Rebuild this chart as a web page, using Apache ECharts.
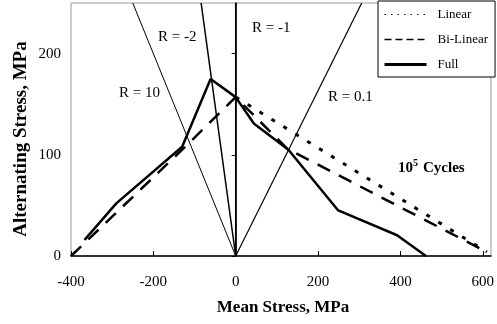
<!DOCTYPE html>
<html>
<head>
<meta charset="utf-8">
<script src="https://cdn.jsdelivr.net/npm/echarts@6/dist/echarts.min.js"></script>
<style>
  html, body { margin: 0; padding: 0; background: #fff; }
  #chart { width: 497px; height: 324px; }
</style>
</head>
<body>
<div id="chart"></div>
<script>
// Haigh diagram at 1e5 cycles: mean stress vs alternating stress (MPa)
const linearMean = [0, 610];
const linearAlt = [157, 4];

const bilinearMean = [-400, -125, 0, 125, 610];
const bilinearAlt = [0, 107, 157, 106, 4];

const fullMean = [-367, -290, -130, -61, 0, 44, 128, 249, 392, 462];
const fullAlt = [16, 52, 108, 175, 157, 131, 105, 45, 20.5, 0];

// Constant stress-ratio rays from the origin to the top of the plot
const rayNames = ['R = 10', 'R = -2', 'R = -1', 'R = 0.1'];
const rayTopMean = [-250, -84, 0, 306];
const rayTopAlt = [250, 250, 250, 250];
const rayWidths = [1, 1.5, 1.5, 1.2];

const xTicks = [-400, -200, 0, 200, 400, 600];
const yTicks = [0, 100, 200];

const SERIF = '"Liberation Serif", "Times New Roman", serif';

function pairs(xs, ys) {
  return xs.map((x, i) => [x, ys[i]]);
}

const raySeries = rayNames.map((name, i) => ({
  type: 'line',
  name: name,
  data: [[0, 0], [rayTopMean[i], rayTopAlt[i]]],
  symbol: 'none',
  silent: true,
  lineStyle: { color: '#000', width: rayWidths[i] },
  z: 1
}));

const chart = echarts.init(document.getElementById('chart'), null, { renderer: 'canvas' });

chart.setOption({
  animation: false,
  backgroundColor: '#fff',
  grid: {
    left: 71, right: 3, top: 3, bottom: 68,
    show: true, borderColor: '#999', borderWidth: 1, backgroundColor: 'transparent'
  },
  xAxis: {
    type: 'value', min: -400, max: 620, interval: 200,
    splitLine: { show: false },
    axisLine: { lineStyle: { color: '#000', width: 1.5 } },
    axisTick: { inside: true, length: 5, lineStyle: { color: '#000' }, customValues: xTicks },
    axisLabel: { customValues: xTicks, color: '#000', fontFamily: SERIF, fontSize: 15, margin: 19 }
  },
  yAxis: {
    type: 'value', min: 0, max: 250, interval: 100,
    splitLine: { show: false },
    axisLine: { lineStyle: { color: '#000', width: 1.5 } },
    axisTick: { inside: false, length: 4, lineStyle: { color: '#000' }, customValues: yTicks },
    axisLabel: { customValues: yTicks, color: '#000', fontFamily: SERIF, fontSize: 15, margin: 10 }
  },
  legend: {
    orient: 'vertical',
    left: 378, top: 1,
    padding: [7, 7, 6, 5],
    itemGap: 12,
    itemWidth: 42, itemHeight: 14,
    backgroundColor: '#fff',
    borderColor: '#000', borderWidth: 1,
    itemStyle: { opacity: 0 },
    textStyle: { color: '#000', fontFamily: SERIF, fontSize: 13, padding: [0, 0, 0, 6] },
    data: [
      { name: 'Linear', lineStyle: { width: 1, type: [1.5, 5] } },
      { name: 'Bi-Linear', lineStyle: { width: 1.5, type: [7, 4] } },
      { name: 'Full', lineStyle: { width: 3, type: 'solid' } }
    ]
  },
  series: raySeries.concat([
    {
      type: 'line', name: 'Linear',
      data: pairs(linearMean, linearAlt),
      symbol: 'none',
      itemStyle: { color: '#000' },
      lineStyle: { color: '#000', width: 3, type: [4, 10] },
      z: 3
    },
    {
      type: 'line', name: 'Bi-Linear',
      data: pairs(bilinearMean, bilinearAlt),
      symbol: 'none',
      itemStyle: { color: '#000' },
      lineStyle: { color: '#000', width: 2.5, type: [14, 10] },
      z: 3
    },
    {
      type: 'line', name: 'Full',
      data: pairs(fullMean, fullAlt),
      symbol: 'none',
      itemStyle: { color: '#000' },
      lineStyle: { color: '#000', width: 2.5 },
      z: 4
    }
  ]),
  graphic: [
    { type: 'text', x: 158, y: 37, style: { text: 'R = -2', font: '15px ' + SERIF, fill: '#000', textVerticalAlign: 'middle' } },
    { type: 'text', x: 119, y: 93, style: { text: 'R = 10', font: '15px ' + SERIF, fill: '#000', textVerticalAlign: 'middle' } },
    { type: 'text', x: 252, y: 28, style: { text: 'R = -1', font: '15px ' + SERIF, fill: '#000', textVerticalAlign: 'middle' } },
    { type: 'text', x: 328, y: 97, style: { text: 'R = 0.1', font: '15px ' + SERIF, fill: '#000', textVerticalAlign: 'middle' } },
    { type: 'text', x: 398, y: 168, style: { text: '10', font: 'bold 15px ' + SERIF, fill: '#000', textVerticalAlign: 'middle' } },
    { type: 'text', x: 413, y: 163, style: { text: '5', font: 'bold 10px ' + SERIF, fill: '#000', textVerticalAlign: 'middle' } },
    { type: 'text', x: 423, y: 168, style: { text: 'Cycles', font: 'bold 15px ' + SERIF, fill: '#000', textVerticalAlign: 'middle' } },
    { type: 'text', x: 283, y: 308, style: { text: 'Mean Stress, MPa', font: 'bold 17px ' + SERIF, fill: '#000', textAlign: 'center', textVerticalAlign: 'middle' } },
    { type: 'text', x: 21, y: 139, rotation: Math.PI / 2, style: { text: 'Alternating Stress, MPa', font: 'bold 19px ' + SERIF, fill: '#000', textAlign: 'center', textVerticalAlign: 'middle' } }
  ]
});
</script>
</body>
</html>
